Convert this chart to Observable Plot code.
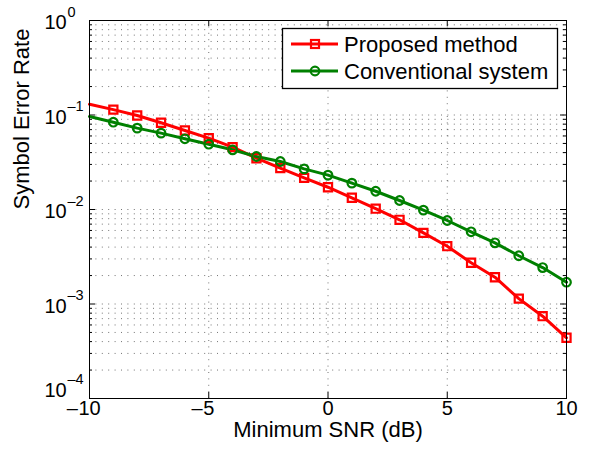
<!DOCTYPE html>
<html><head><meta charset="utf-8">
<script src="https://cdn.jsdelivr.net/npm/d3@7"></script>
<script src="https://cdn.jsdelivr.net/npm/@observablehq/plot@0.6"></script>
<style>body{margin:0;background:#fff}#chart{width:592px;height:452px}</style>
</head><body><div id="chart"></div>
<script>
// ---- data ----
const snr = [-10,-9,-8,-7,-6,-5,-4,-3,-2,-1,0,1,2,3,4,5,6,7,8,9,10];
const proposed = [0.130,0.114,0.0989,0.0827,0.0686,0.0569,0.0457,0.0349,0.0274,0.0216,0.0172,0.0133,0.0102,0.00778,0.00566,0.00409,0.00273,0.00192,0.00114,0.000743,0.000439];
const conventional = [0.0964,0.0839,0.0726,0.0643,0.0560,0.0491,0.0428,0.0364,0.0322,0.0269,0.0231,0.0190,0.0156,0.01245,0.00984,0.00765,0.00581,0.00444,0.00324,0.00243,0.00170];
const seriesNames = ["Proposed method","Conventional system"];
const seriesColors = ["#ff0000","#008000"];
const seriesSymbols = ["square","circle"];
const xTicks = [-10,-5,0,5,10];
const yExponents = [0,-1,-2,-3,-4];
const xLabel = "Minimum SNR (dB)";
const yLabel = "Symbol Error Rate";

const W=592,H=452,mL=89,mR=26,mT=20,mB=54;
const pw=W-mL-mR, ph=H-mT-mB;
const font="'Liberation Sans', Arial, Helvetica, sans-serif";
const tickFs = 20, labelFs = 22, legendFs = 22;

const yMajor = yExponents.map(e=>Math.pow(10,e));
const yMinor = [];
for (const e of yExponents.slice(1)) for (let k=2;k<=9;k++) yMinor.push(k*Math.pow(10,e));
const yGrid = yMajor.slice(1,-1).concat(yMinor);
const xGrid = xTicks.slice(1,-1);

const data = snr.flatMap((x,i)=>[
  {x, y:proposed[i], s:seriesNames[0]},
  {x, y:conventional[i], s:seriesNames[1]}
]);

const grid = {stroke:"#000", strokeOpacity:0.55, strokeWidth:1, strokeDasharray:"1,5.4"};
const marks = [
  Plot.ruleY(yGrid, {y:d=>d, ...grid}),
  Plot.ruleX(xGrid, {x:d=>d, ...grid}),
  Plot.tickY(yMajor, {y:d=>d, insetRight:pw-6, stroke:"#000"}),
  Plot.tickY(yMajor, {y:d=>d, insetLeft:pw-6, stroke:"#000"}),
  Plot.tickY(yMinor, {y:d=>d, insetRight:pw-3, stroke:"#000"}),
  Plot.tickY(yMinor, {y:d=>d, insetLeft:pw-3, stroke:"#000"}),
  Plot.tickX(xTicks, {x:d=>d, insetTop:ph-6, stroke:"#000"}),
  Plot.tickX(xTicks, {x:d=>d, insetBottom:ph-6, stroke:"#000"}),
  Plot.line(data, {x:"x", y:"y", stroke:"s", strokeWidth:3}),
];
seriesNames.forEach((name,i)=>{
  marks.push(Plot.dot(data.filter(d=>d.s===name && d.x>-10), {
    x:"x", y:"y", symbol:()=>seriesSymbols[i], r: i===0?4.6:4.3,
    stroke:seriesColors[i], strokeWidth:2.2, fill:"none"}));
});
marks.push(Plot.frame({stroke:"#000"}));
marks.push(Plot.text(xTicks, {x:d=>d, text:d=>String(Math.abs(d)), frameAnchor:"bottom", dy:16.5, fontSize:tickFs, fill:"#000"}));
xTicks.filter(d=>d<0).forEach(d=>{
  const half = String(Math.abs(d)).length*tickFs*0.556/2;
  marks.push(Plot.text([d], {x:d=>d, text:()=>"\u2013", frameAnchor:"bottom", dy:16.5, dx:-half-0.5, textAnchor:"end", fontSize:tickFs, fill:"#000"}));
});
yExponents.forEach(e=>{
  const last = e===yExponents[yExponents.length-1];
  const base = last ? -8 : 2.5;
  marks.push(Plot.text([Math.pow(10,e)], {y:d=>d, text:()=>"10", frameAnchor:"left", dx:-45, dy:base, textAnchor:"start", fontSize:tickFs, fill:"#000"}));
  marks.push(Plot.text([Math.pow(10,e)], {y:d=>d, text:()=>(e<0?"\u2013":"")+Math.abs(e), frameAnchor:"left", dx:-22, dy:base-11, textAnchor:"start", fontSize:14.5, fill:"#000"}));
});
marks.push(Plot.text([xLabel], {text:d=>d, frameAnchor:"bottom", dy:38.5, fontSize:labelFs, fill:"#000"}));
marks.push(Plot.text([yLabel], {text:d=>d, frameAnchor:"left", dx:-68, rotate:-90, fontSize:labelFs, fill:"#000"}));

const chart = Plot.plot({
  width:W, height:H, marginLeft:mL, marginRight:mR, marginTop:mT, marginBottom:mB,
  style:{fontFamily:font, background:"#fff", overflow:"visible"},
  x:{domain:[-10,10], axis:null},
  y:{type:"log", domain:[1e-4,1], axis:null},
  color:{domain:seriesNames, range:seriesColors},
  marks
});
document.getElementById("chart").appendChild(chart);

// legend
const svg = d3.select(chart);
const lg = svg.append("g").attr("text-anchor","start");
lg.append("rect").attr("x",282.5).attr("y",28.5).attr("width",275).attr("height",60)
  .attr("fill","#fff").attr("stroke","#000").attr("stroke-width",1.3);
seriesNames.forEach((name,i)=>{
  const cy = 44 + i*27;
  lg.append("line").attr("x1",291).attr("x2",338).attr("y1",cy).attr("y2",cy)
    .attr("stroke",seriesColors[i]).attr("stroke-width",3);
  if (seriesSymbols[i]==="square")
    lg.append("rect").attr("x",315-4).attr("y",cy-4).attr("width",8).attr("height",8)
      .attr("fill","none").attr("stroke",seriesColors[i]).attr("stroke-width",2.2);
  else
    lg.append("circle").attr("cx",315).attr("cy",cy).attr("r",4.3)
      .attr("fill","none").attr("stroke",seriesColors[i]).attr("stroke-width",2.2);
  lg.append("text").attr("x",344).attr("y",cy+7.8).text(name)
    .attr("text-anchor","start").attr("font-family",font).attr("font-size",legendFs).attr("fill","#000");
});
</script></body></html>
